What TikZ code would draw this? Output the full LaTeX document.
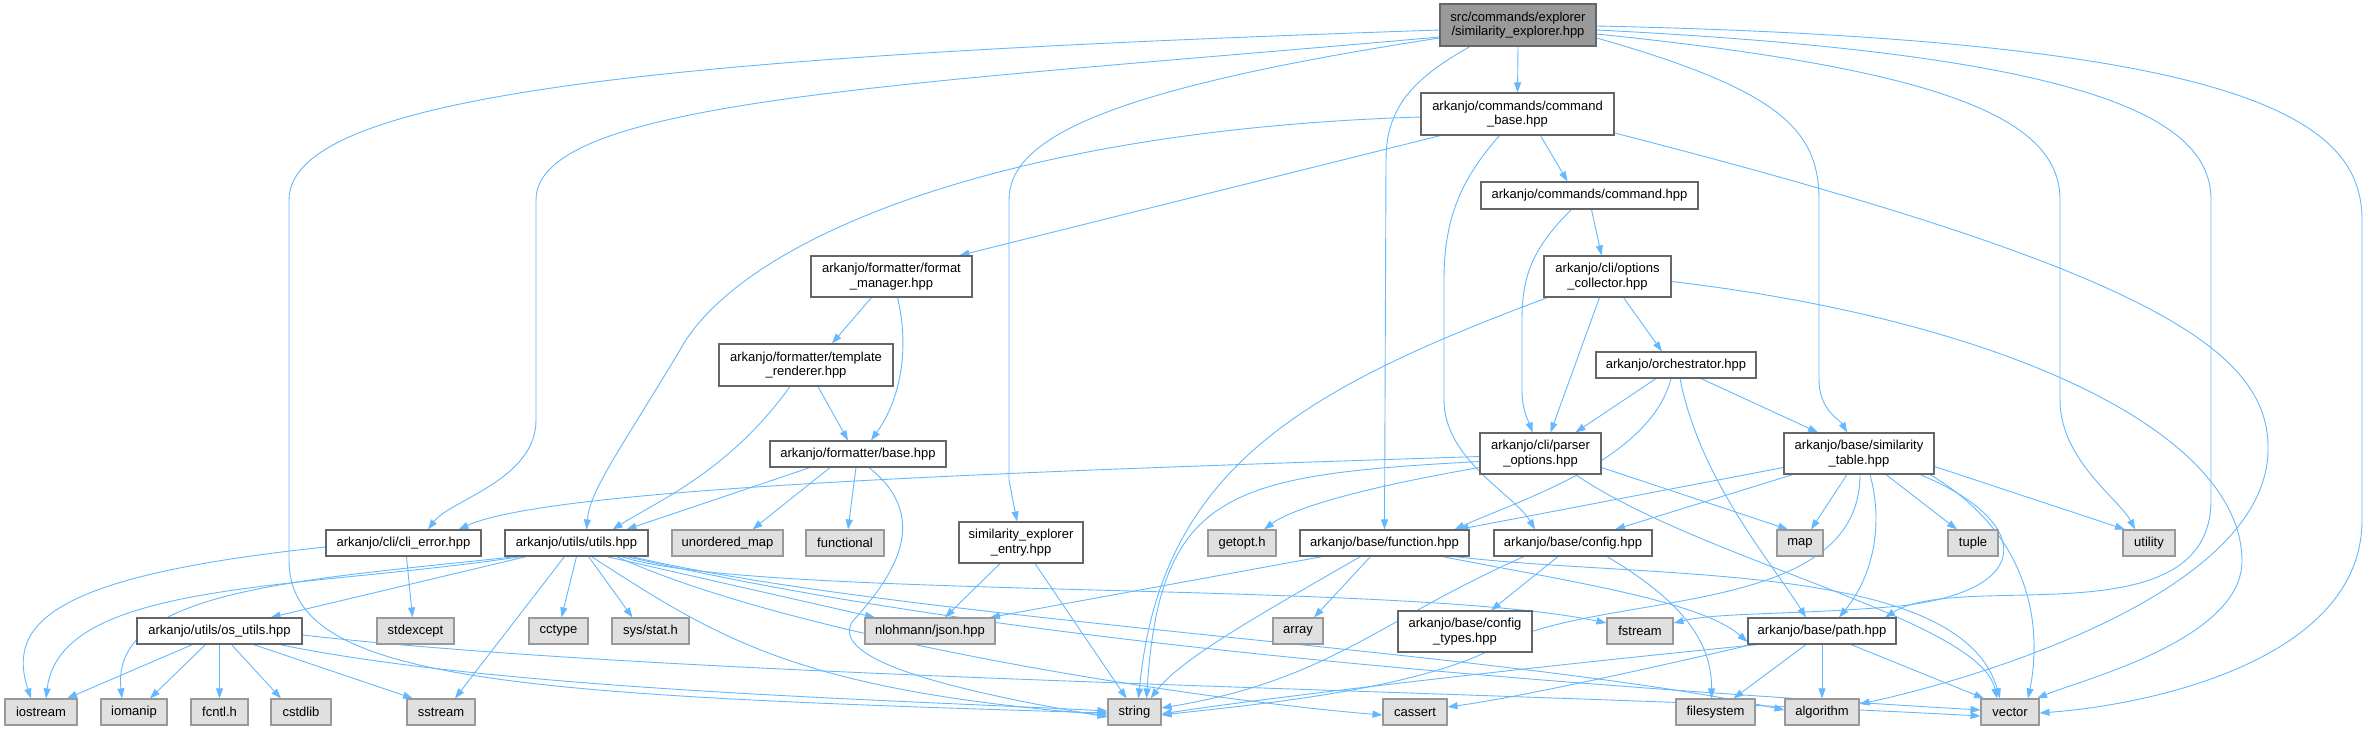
\documentclass[tikz,border=0pt]{standalone}
\usepackage{fontspec}
\setmainfont{Liberation Sans}
\usetikzlibrary{arrows.meta}
\definecolor{edgec}{HTML}{63B8FF}
\definecolor{bdark}{HTML}{666666}
\definecolor{blight}{HTML}{999999}
\definecolor{gfill}{HTML}{E0E0E0}
\definecolor{rfill}{HTML}{999999}
\pgfdeclarelayer{bg}
\pgfsetlayers{bg,main}
\begin{document}
\begin{tikzpicture}[x=1pt,y=-1pt,
  box/.style={rectangle,inner sep=0pt,align=center,line width=1.1pt,
    font=\fontsize{13}{14.5}\selectfont,text=black},
  wnode/.style={box,draw=bdark,fill=white},
  gnode/.style={box,draw=blight,fill=gfill},
  rnode/.style={box,draw=bdark,fill=rfill},
  sz/.style 2 args={minimum width=#1,minimum height=#2},
  dep/.style={draw=edgec,line width=0.9pt,-{Triangle[length=10pt,width=7pt]}}]
\useasboundingbox (0,0) rectangle (2369,731);
% row 1-5
\node[rnode,sz={156pt}{42pt}] (root) at (1518,25) {src/commands/explorer\\/similarity\_explorer.hpp};
\node[wnode,sz={193pt}{42pt}] (cmdbase) at (1517.5,114) {arkanjo/commands/command\\\_base.hpp};
\node[wnode,sz={217pt}{27pt}] (command) at (1589.5,195.5) {arkanjo/commands/command.hpp};
\node[wnode,sz={161pt}{41pt}] (fmtmgr) at (891.5,276.5) {arkanjo/formatter/format\\\_manager.hpp};
\node[wnode,sz={127pt}{41pt}] (optcol) at (1607.5,276.5) {arkanjo/cli/options\\\_collector.hpp};
\node[wnode,sz={174pt}{42pt}] (tplr) at (806,365) {arkanjo/formatter/template\\\_renderer.hpp};
\node[wnode,sz={160pt}{26pt}] (orch) at (1676,365) {arkanjo/orchestrator.hpp};
% row 6
\node[wnode,sz={176pt}{26pt}] (fbase) at (858,454) {arkanjo/formatter/base.hpp};
\node[wnode,sz={121pt}{41pt}] (parser) at (1540.5,453.5) {arkanjo/cli/parser\\\_options.hpp};
\node[wnode,sz={150pt}{41pt}] (simtab) at (1859,453.5) {arkanjo/base/similarity\\\_table.hpp};
% row 7
\node[wnode,sz={155pt}{26pt}] (clierr) at (403.5,543) {arkanjo/cli/cli\_error.hpp};
\node[wnode,sz={143pt}{26pt}] (utils) at (576.5,543) {arkanjo/utils/utils.hpp};
\node[gnode,sz={111pt}{26pt}] (umap) at (727.5,543) {unordered\_map};
\node[gnode,sz={78pt}{26pt}] (functional) at (845,543) {functional};
\node[wnode,sz={124pt}{41pt}] (entry) at (1021,542.5) {similarity\_explorer\\\_entry.hpp};
\node[gnode,sz={68pt}{26pt}] (getopt) at (1242,543) {getopt.h};
\node[wnode,sz={169pt}{26pt}] (function) at (1384.5,543) {arkanjo/base/function.hpp};
\node[wnode,sz={158pt}{26pt}] (config) at (1573,543) {arkanjo/base/config.hpp};
\node[gnode,sz={46pt}{26pt}] (map) at (1800,543) {map};
\node[gnode,sz={50pt}{26pt}] (tuple) at (1973,543) {tuple};
\node[gnode,sz={52pt}{26pt}] (utility) at (2149,543) {utility};
% row 8
\node[wnode,sz={165pt}{26pt}] (osutils) at (219.5,631) {arkanjo/utils/os\_utils.hpp};
\node[gnode,sz={77pt}{26pt}] (stdexcept) at (415.5,631) {stdexcept};
\node[gnode,sz={59pt}{26pt}] (cctype) at (558.5,631) {cctype};
\node[gnode,sz={77pt}{26pt}] (sysstat) at (650.5,631) {sys/stat.h};
\node[gnode,sz={130pt}{26pt}] (json) at (930,631) {nlohmann/json.hpp};
\node[gnode,sz={50pt}{26pt}] (array) at (1298,631) {array};
\node[wnode,sz={134pt}{41pt}] (cfgtypes) at (1465,631.5) {arkanjo/base/config\\\_types.hpp};
\node[gnode,sz={66pt}{26pt}] (fstream) at (1640,631) {fstream};
\node[wnode,sz={148pt}{26pt}] (path) at (1822,631) {arkanjo/base/path.hpp};
% row 9
\node[gnode,sz={72pt}{26pt}] (iostream) at (41,712) {iostream};
\node[gnode,sz={66pt}{26pt}] (iomanip) at (134,712) {iomanip};
\node[gnode,sz={57pt}{26pt}] (fcntl) at (219.5,712) {fcntl.h};
\node[gnode,sz={60pt}{26pt}] (cstdlib) at (301,712) {cstdlib};
\node[gnode,sz={68pt}{26pt}] (sstream) at (441,712) {sstream};
\node[gnode,sz={53pt}{26pt}] (string) at (1134.5,712) {string};
\node[gnode,sz={64pt}{26pt}] (cassert) at (1415,712) {cassert};
\node[gnode,sz={79pt}{26pt}] (filesystem) at (1715.5,712) {filesystem};
\node[gnode,sz={74pt}{26pt}] (algorithm) at (1822,712) {algorithm};
\node[gnode,sz={58pt}{26pt}] (vector) at (2010,712) {vector};

\begin{pgfonlayer}{bg}
% root
\draw[dep] (root.south) -- (cmdbase.north);
\draw[dep] ([yshift=-12pt]root.west) .. controls (900,85) and (536,100) .. (536,200) -- (536,420) .. controls (536,480) and (450,500) .. ([xshift=24.5pt]clierr.north);
\draw[dep] ([yshift=-5pt]root.west) .. controls (700,55) and (289,90) .. (289,200) -- (289,560) .. controls (289,680) and (500,695) .. ([yshift=-1pt]string.west);
\draw[dep] ([yshift=-13pt]root.west) .. controls (1100,90) and (1009,140) .. (1009,200) -- (1009,480) -- ([xshift=-4pt]entry.north);
\draw[dep] ([xshift=-48pt]root.south) .. controls (1410,80) and (1386,110) .. (1386,160) -- (function.north);
\draw[dep] ([yshift=-13pt]root.east) .. controls (1780,90) and (1819,130) .. (1819,200) -- (1819,380) .. controls (1819,410) and (1840,420) .. ([xshift=-12pt]simtab.north);
\draw[dep] ([yshift=-9pt]root.east) .. controls (1950,70) and (2060,120) .. (2060,200) -- (2060,400) .. controls (2060,460) and (2120,500) .. ([xshift=-14pt]utility.north);
\draw[dep] ([yshift=-5pt]root.east) .. controls (2100,55) and (2211,120) .. (2211,200) -- (2211,500) .. controls (2211,640) and (1960,570) .. ([xshift=63pt]path.north);
\draw[dep] ([yshift=-1pt]root.east) .. controls (2250,40) and (2362,120) .. (2362,220) -- (2362,520) .. controls (2362,660) and (2150,705) .. ([yshift=-1pt]vector.east);
% command_base
\draw[dep] ([xshift=23pt]cmdbase.south) -- ([xshift=-22pt]command.north);
\draw[dep] ([yshift=-3pt]cmdbase.west) .. controls (1000,130) and (740,240) .. (680,350) .. controls (620,450) and (590,490) .. ([xshift=10pt]utils.north);
\draw[dep] ([xshift=-77pt]cmdbase.south) -- ([xshift=68pt]fmtmgr.north);
\draw[dep] ([xshift=-18pt]cmdbase.south) .. controls (1460,180) and (1444,220) .. (1444,280) -- (1444,400) .. controls (1444,460) and (1515,495) .. ([xshift=-38pt]config.north);
\draw[dep] ([yshift=-19pt]cmdbase.east) .. controls (2150,270) and (2270,350) .. (2268,450) .. controls (2266,600) and (1950,685) .. ([yshift=8pt]algorithm.east);
% command
\draw[dep] ([xshift=2pt]command.south) -- ([xshift=-6pt]optcol.north);
\draw[dep] ([xshift=-18pt]command.south) .. controls (1530,250) and (1522,280) .. (1522,320) -- (1522,390) .. controls (1522,410) and (1528,420) .. ([xshift=-8pt]parser.north);
% options_collector
\draw[dep] ([xshift=16pt]optcol.south) -- ([xshift=-14pt]orch.north);
\draw[dep] ([xshift=-8pt]optcol.south) -- ([xshift=10pt]parser.north);
\draw[dep] ([xshift=-60pt]optcol.south) .. controls (1300,390) and (1160,470) .. ([xshift=4pt]string.north);
\draw[dep] ([yshift=-5pt]optcol.east) .. controls (2000,320) and (2240,430) .. (2242,560) .. controls (2243,640) and (2080,680) .. ([xshift=27pt]vector.north);
% orchestrator
\draw[dep] ([xshift=-20pt]orch.south) -- ([xshift=35pt]parser.north);
\draw[dep] ([xshift=25pt]orch.south) -- ([xshift=-41pt]simtab.north);
\draw[dep] ([xshift=4pt]orch.south) .. controls (1700,480) and (1770,560) .. ([xshift=-16pt]path.north);
\draw[dep] ([xshift=-5pt]orch.south) .. controls (1650,460) and (1520,500) .. ([xshift=70pt]function.north);
% parser_options
\draw[dep] ([yshift=-3pt]parser.west) .. controls (1000,472) and (550,488) .. ([xshift=55pt]clierr.north);
\draw[dep] ([yshift=-8pt]parser.west) .. controls (1230,475) and (1160,490) .. ([xshift=12pt]string.north);
\draw[dep] ([yshift=-14pt]parser.west) .. controls (1350,490) and (1290,510) .. ([xshift=22pt]getopt.north);
\draw[dep] ([yshift=-14pt]parser.east) -- ([xshift=-12pt]map.north);
\draw[dep] ([xshift=35pt]parser.south) .. controls (1700,560) and (1980,620) .. ([xshift=-13pt]vector.north);
% similarity_table
\draw[dep] ([yshift=-14pt]simtab.west) -- ([xshift=74pt]function.north);
\draw[dep] ([xshift=-66pt]simtab.south) -- ([xshift=42pt]config.north);
\draw[dep] ([xshift=-12pt]simtab.south) -- ([xshift=11pt]map.north);
\draw[dep] ([xshift=27pt]simtab.south) -- ([xshift=-16pt]tuple.north);
\draw[dep] ([yshift=-13pt]simtab.east) -- ([xshift=-24pt]utility.north);
\draw[dep] ([xshift=71pt]simtab.south) .. controls (2040,540) and (2040,640) .. ([xshift=18pt]vector.north);
\draw[dep] ([xshift=11pt]simtab.south) .. controls (1885,530) and (1870,580) .. ([xshift=17pt]path.north);
\draw[dep] ([xshift=61pt]simtab.south) .. controls (2030,520) and (2040,590) .. (1900,606) .. controls (1800,615) and (1720,612) .. ([yshift=8pt]fstream.east);
\draw[dep] ([xshift=1pt]simtab.south) .. controls (1860,620) and (1600,590) .. (1500,645) .. controls (1420,690) and (1250,705) .. ([yshift=-3pt]string.east);
% config
\draw[dep] ([xshift=-49pt]config.south) .. controls (1380,620) and (1330,680) .. ([yshift=4pt]string.east);
\draw[dep] ([xshift=-15pt]config.south) -- ([xshift=26pt]cfgtypes.north);
\draw[dep] ([xshift=34pt]config.south) .. controls (1680,600) and (1712,640) .. ([xshift=-4pt]filesystem.north);
% function
\draw[dep] ([xshift=-62pt]function.south) -- ([xshift=60pt]json.north);
\draw[dep] ([xshift=-24pt]function.south) .. controls (1250,620) and (1180,660) .. ([xshift=16pt]string.north);
\draw[dep] ([xshift=-14pt]function.south) -- ([xshift=16pt]array.north);
\draw[dep] ([xshift=58pt]function.south) .. controls (1560,580) and (1700,600) .. ([yshift=-11pt]path.west);
\draw[dep] ([xshift=70pt]function.south) .. controls (1650,580) and (1960,560) .. ([xshift=-10pt]vector.north);
% path
\draw[dep] ([xshift=-64pt]path.south) .. controls (1500,670) and (1250,700) .. ([yshift=-2pt]string.east);
\draw[dep] ([xshift=-70pt]path.south) .. controls (1600,680) and (1500,700) .. ([yshift=5pt]cassert.east);
\draw[dep] ([xshift=-16pt]path.south) -- ([xshift=18pt]filesystem.north);
\draw[dep] (path.south) -- (algorithm.north);
\draw[dep] ([xshift=29pt]path.south) -- ([xshift=-26pt]vector.north);
% formatter
\draw[dep] ([xshift=-20pt]fmtmgr.south) -- ([xshift=26pt]tplr.north);
\draw[dep] ([xshift=6pt]fmtmgr.south) .. controls (910,350) and (900,400) .. ([xshift=13pt]fbase.north);
\draw[dep] ([xshift=12pt]tplr.south) -- ([xshift=-10pt]fbase.north);
\draw[dep] ([xshift=-16pt]tplr.south) .. controls (730,470) and (660,500) .. ([xshift=36pt]utils.north);
\draw[dep] ([xshift=-48pt]fbase.south) -- ([xshift=50pt]utils.north);
\draw[dep] ([xshift=-28pt]fbase.south) -- ([xshift=25pt]umap.north);
\draw[dep] ([xshift=-2pt]fbase.south) -- ([xshift=3pt]functional.north);
\draw[dep] ([xshift=11pt]fbase.south) .. controls (935,520) and (890,580) .. (852,622) .. controls (830,660) and (950,690) .. ([yshift=-5pt]string.west);
% entry
\draw[dep] ([xshift=-21pt]entry.south) -- ([xshift=15pt]json.north);
\draw[dep] ([xshift=14pt]entry.south) -- ([xshift=-8pt]string.north);
% cli_error
\draw[dep] ([xshift=3pt]clierr.south) -- ([xshift=-3pt]stdexcept.north);
\draw[dep] ([yshift=-4pt]clierr.west) .. controls (60,575) and (5,620) .. ([xshift=-10pt]iostream.north);
% utils
\draw[dep] ([xshift=-50pt]utils.south) -- ([xshift=51pt]osutils.north);
\draw[dep] ([xshift=-55pt]utils.south) .. controls (300,590) and (60,580) .. ([xshift=5pt]iostream.north);
\draw[dep] ([xshift=-60pt]utils.south) .. controls (300,580) and (110,590) .. ([xshift=-12pt]iomanip.north);
\draw[dep] ([xshift=-12pt]utils.south) -- ([xshift=14pt]sstream.north);
\draw[dep] (utils.south) -- ([xshift=3pt]cctype.north);
\draw[dep] ([xshift=12pt]utils.south) -- ([xshift=-18pt]sysstat.north);
\draw[dep] ([xshift=15pt]utils.south) .. controls (720,640) and (800,690) .. ([yshift=-3pt]string.west);
\draw[dep] ([xshift=30pt]utils.south) -- ([xshift=-55pt]json.north);
\draw[dep] ([xshift=45pt]utils.south) .. controls (750,600) and (1400,580) .. ([yshift=8pt]fstream.west);
\draw[dep] ([xshift=50pt]utils.south) .. controls (900,620) and (1300,670) .. ([yshift=2pt]vector.west);
\draw[dep] ([xshift=40pt]utils.south) .. controls (800,640) and (1200,700) .. ([yshift=-3pt]cassert.west);
\draw[dep] ([xshift=55pt]utils.south) .. controls (900,620) and (1500,650) .. ([yshift=2pt]algorithm.west);
% os_utils
\draw[dep] ([xshift=-27pt]osutils.south) -- ([xshift=26pt]iostream.north);
\draw[dep] ([xshift=-14pt]osutils.south) -- ([xshift=16pt]iomanip.north);
\draw[dep] (osutils.south) -- (fcntl.north);
\draw[dep] ([xshift=12pt]osutils.south) -- ([xshift=-20pt]cstdlib.north);
\draw[dep] ([xshift=34pt]osutils.south) -- ([xshift=-28pt]sstream.north);
\draw[dep] ([xshift=60pt]osutils.south) .. controls (500,690) and (900,700) .. ([yshift=1pt]string.west);
\draw[dep] ([yshift=-4pt]osutils.east) .. controls (700,680) and (1500,690) .. ([yshift=-4pt]vector.west);
\end{pgfonlayer}
\end{tikzpicture}
\end{document}
